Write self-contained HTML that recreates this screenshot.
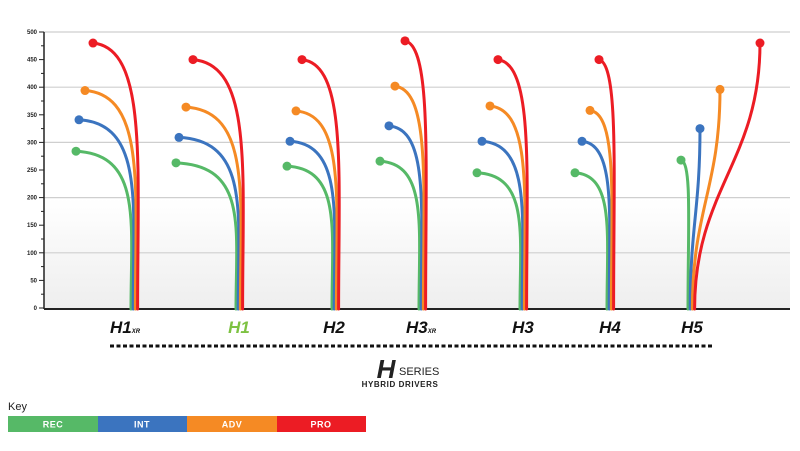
<!DOCTYPE html>
<html><head><meta charset="utf-8"><style>
body{margin:0;background:#fff;width:800px;height:446px;overflow:hidden;font-family:"Liberation Sans",sans-serif}
</style></head><body>
<svg width="800" height="446" viewBox="0 0 800 446">
<defs><linearGradient id="bg" x1="0" y1="0" x2="0" y2="1"><stop offset="0" stop-color="#fff"/><stop offset="0.6" stop-color="#fff"/><stop offset="1" stop-color="#eeeeee"/></linearGradient></defs>
<rect x="44" y="32" width="746" height="277" fill="url(#bg)"/>
<g id="grid"></g><g id="axis"></g><g id="curves"></g>
<g font-family="Liberation Sans,sans-serif" font-style="italic" font-weight="bold" font-size="17" text-anchor="middle">
<text x="125" y="333" fill="#111">H1<tspan font-size="6">XR</tspan></text>
<text x="239" y="333" fill="#7dc242">H1</text>
<text x="334" y="333" fill="#111">H2</text>
<text x="421" y="333" fill="#111">H3<tspan font-size="6">XR</tspan></text>
<text x="523" y="333" fill="#111">H3</text>
<text x="610" y="333" fill="#111">H4</text>
<text x="692" y="333" fill="#111">H5</text>
</g>
<line x1="110" y1="346" x2="712" y2="346" stroke="#111" stroke-width="3" stroke-dasharray="4,2.5"/>
<text x="386" y="378" font-size="26" font-weight="bold" font-style="italic" fill="#222" text-anchor="middle">H</text>
<text x="399" y="375" font-size="11" fill="#222">SERIES</text>
<text x="400" y="387" font-size="8" font-weight="bold" fill="#222" text-anchor="middle" letter-spacing="0.6">HYBRID DRIVERS</text>
<text x="8" y="410" font-size="11" fill="#222">Key</text>
<g font-size="9" font-weight="bold" fill="#fff" text-anchor="middle" letter-spacing="0.5">
<rect x="8" y="416" width="90" height="16" fill="#56b967"/><text x="53" y="427.5">REC</text>
<rect x="98" y="416" width="89" height="16" fill="#3b74bf"/><text x="142" y="427.5">INT</text>
<rect x="187" y="416" width="90" height="16" fill="#f58a24"/><text x="232" y="427.5">ADV</text>
<rect x="277" y="416" width="89" height="16" fill="#ec1c24"/><text x="321" y="427.5">PRO</text>
</g>
</svg>
<script>
const categories=["H1XR","H1","H2","H3XR","H3","H4","H5"];
const recValues=[284,263,257,266,245,245,268];
const intValues=[341,309,302,330,302,302,325];
const advValues=[394,364,357,402,366,358,396];
const proValues=[480,450,450,484,450,450,480];
const yTicks=[0,50,100,150,200,250,300,350,400,450,500];
// layout (not data)
const baseX=[131,236,332,419,520,607,688];
const dotOff=[[-55,-52,-46,-38],[-60,-57,-50,-43],[-45,-42,-36,-30],[-39,-30,-24,-14],[-43,-38,-30,-22],[-32,-25,-17,-8],[-7,12,32,72]];
const colors=["#56b967","#3b74bf","#f58a24","#ec1c24"];
const series=[recValues,intValues,advValues,proValues];
const NS="http://www.w3.org/2000/svg";
const y0=308,y1=32;
function yS(v){return y0-(v/500)*(y0-y1);}
function mk(t,a,p){const e=document.createElementNS(NS,t);for(const k in a)e.setAttribute(k,a[k]);p.appendChild(e);return e;}
const grid=document.getElementById('grid'),axis=document.getElementById('axis'),cg=document.getElementById('curves');
yTicks.forEach(v=>{
  if(v>0&&v%100===0){const g=mk('line',{x1:44,x2:790,y1:yS(v),y2:yS(v),stroke:'#cfcfcf','stroke-width':1.2},grid);
  
  }
  const t=mk('line',{x1:39,x2:44,y1:yS(v),y2:yS(v),stroke:'#222','stroke-width':1},axis);
  
  
  if(v<500){
  const m=mk('line',{x1:41,x2:44,y1:yS(v+25),y2:yS(v+25),stroke:'#222','stroke-width':1},axis);
  
  
  }
  const l=mk('text',{x:37,y:yS(v)+2,'font-size':6,'font-weight':'bold','text-anchor':'end',fill:'#222'},axis);
  l.textContent=v;
  
  
});
const ya=mk('line',{x1:44,x2:44,y1:32,y2:309,stroke:'#222','stroke-width':1.5},axis);


const xa=mk('line',{x1:44,x2:790,y1:309,y2:309,stroke:'#222','stroke-width':2},axis);


categories.forEach((c,i)=>{
  series.forEach((s,j)=>{
    const bx=baseX[i]+j*2.2, dx=baseX[i]+dotOff[i][j], dy=yS(s[i]), h=y0-dy;
    let d;
    if(dotOff[i][j]<0){
      const k=(bx-dx)*0.15+3;
      d=`M${dx},${dy} C${bx+k},${dy+h*0.02} ${bx},${y0-h*0.55} ${bx},${y0+1}`;
    } else {
      d=`M${bx},${y0+1} C${bx},${y0-h*0.45} ${dx},${dy+h*0.45} ${dx},${dy}`;
    }
    const p=mk('path',{d:d,fill:'none',stroke:colors[j],'stroke-width':3,'stroke-linecap':'round'},cg);
    
    
    const dot=mk('circle',{cx:dx,cy:dy,r:4.5,fill:colors[j]},cg);
    
    
  });
});
</script>
</body></html>
